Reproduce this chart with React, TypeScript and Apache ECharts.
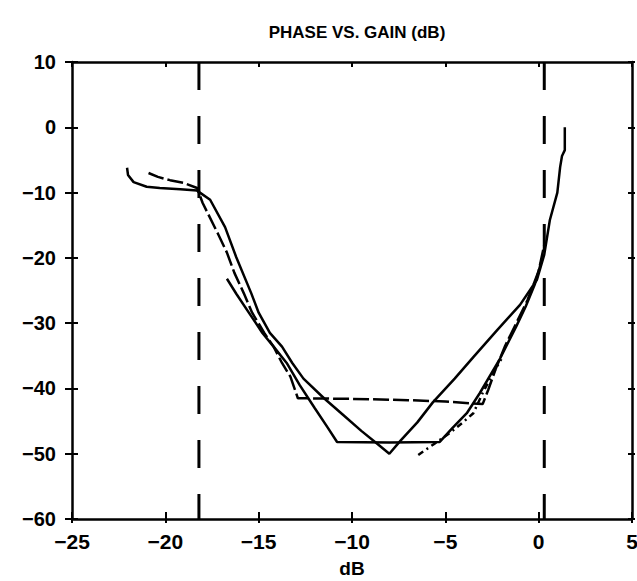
import React, { useEffect, useRef } from "react";
import * as echarts from "echarts";

const xTicks = [-25, -20, -15, -10, -5, 0, 5];
const yTicks = [-60, -50, -40, -30, -20, -10, 0, 10];

const curveV: [number, number][] = [
  [-22.05, -6.2], [-22.0, -7.3], [-21.7, -8.4], [-21.0, -9.1], [-20.3, -9.3], [-19.2, -9.5],
  [-18.3, -9.7], [-17.6, -11.1], [-16.8, -15.3], [-16.2, -19.9], [-15.4, -25.4], [-15.0, -28.4],
  [-14.4, -31.5], [-13.75, -33.6], [-13.2, -36.1], [-12.6, -38.5], [-11.5, -41.5], [-10.5, -44],
  [-9.5, -46.5], [-8.6, -48.6], [-8.0, -50], [-7.4, -48], [-6.5, -45.2], [-5.66, -42.1],
  [-4.5, -38.5], [-3.5, -35.2], [-2.2, -31], [-1.0, -27.2], [-0.1, -23.4], [0.3, -19.5],
  [0.6, -14.2], [1.0, -10], [1.15, -6.1], [1.25, -4.4], [1.4, -3.5], [1.4, 0],
];

const curveUpperFlat: [number, number][] = [
  [-20.9, -7.0], [-20.4, -7.6], [-19.75, -8.1], [-19.05, -8.5], [-18.3, -9.3], [-18.0, -11.6],
  [-17.2, -16.2], [-16.7, -19.2], [-16.3, -22.3], [-15.8, -25.4], [-15.35, -28.4], [-14.7, -31.5],
  [-14.2, -33.6], [-13.75, -36.1], [-13.3, -38.2], [-12.9, -41.5], [-10, -41.6], [-7, -41.8],
  [-5, -42.0], [-3.0, -42.4], [-2.7, -40.2], [-2.3, -37], [-1.8, -33.5], [-1.2, -30],
  [-0.6, -26.5], [0.0, -22], [0.3, -18],
];

const curveLowerFlat: [number, number][] = [
  [-16.7, -23.2], [-16.2, -25.5], [-15.5, -28.5], [-14.8, -31.5], [-14.2, -33.6], [-13.5, -36.1],
  [-12.8, -39.5], [-12.0, -43], [-11.3, -46], [-10.8, -48.2], [-8, -48.3], [-5.3, -48.2],
  [-4.6, -46], [-3.85, -43.8], [-3.15, -40.7], [-2.1, -35.6], [-1.2, -30.5], [-0.7, -27.5],
  [-0.2, -24], [0.2, -20],
];

const curveDashDot: [number, number][] = [
  [-6.45, -50.2], [-5.6, -48.5], [-4.75, -46.8], [-4.1, -45.3], [-3.5, -43.8], [-3.0, -40.7],
  [-2.5, -38], [-2.0, -35.5],
];

const leftCutoffX = -18.2;
const rightCutoffX = 0.3;

export default function App() {
  const ref = useRef<HTMLDivElement>(null);
  useEffect(() => {
    if (!ref.current) return;
    const chart = echarts.init(ref.current, null, { renderer: "svg" });
    const xMin = xTicks[0];
    const xMax = xTicks[xTicks.length - 1];
    const yMin = yTicks[0];
    const yMax = yTicks[yTicks.length - 1];
    const font = "'Liberation Sans', Arial, sans-serif";
    const fmt = (v: number) => (v < 0 ? "\u2212" + Math.abs(v) : String(v));
    const axisLineStyle = { color: "#000", width: 2.5 };
    const tickStyle = { color: "#000", width: 2 };
    const baseX = { type: "value", min: xMin, max: xMax, interval: 5, splitLine: { show: false } };
    const baseY = { type: "value", min: yMin, max: yMax, interval: 10, splitLine: { show: false } };
    const lineS = (data: [number, number][], type: any, width = 2.5) => ({
      type: "line",
      data,
      symbol: "none",
      xAxisIndex: 0,
      yAxisIndex: 0,
      lineStyle: { color: "#000", width, type },
      z: 3,
    });
    chart.setOption({
      animation: false,
      backgroundColor: "#fff",
      title: {
        text: "PHASE VS. GAIN (dB)",
        left: 352,
        textAlign: "center",
        top: 19,
        textStyle: { fontFamily: font, fontWeight: "bold", fontSize: 17, color: "#000" },
      },
      grid: { left: 72, top: 62, width: 560, height: 457, outerBoundsMode: "none", containLabel: false },
      xAxis: [
        {
          ...baseX,
          position: "bottom",
          axisLine: { show: true, onZero: false, lineStyle: axisLineStyle },
          axisTick: { show: true, inside: false, length: 4, lineStyle: tickStyle },
          axisLabel: {
            show: true,
            margin: 12,
            formatter: fmt,
            fontFamily: font,
            fontWeight: "bold",
            fontSize: 21,
            color: "#000",
          },
          name: "dB",
          nameLocation: "middle",
          nameGap: 40,
          nameTextStyle: { fontFamily: font, fontWeight: "bold", fontSize: 19, color: "#000" },
        },
        {
          ...baseX,
          position: "bottom",
          axisLine: { show: false, onZero: false },
          axisTick: { show: true, inside: true, length: 7, lineStyle: tickStyle },
          axisLabel: { show: false },
        },
        {
          ...baseX,
          position: "top",
          axisLine: { show: true, onZero: false, lineStyle: axisLineStyle },
          axisTick: { show: true, inside: true, length: 5, lineStyle: tickStyle },
          axisLabel: { show: false },
        },
      ],
      yAxis: [
        {
          ...baseY,
          position: "left",
          axisLine: { show: true, onZero: false, lineStyle: axisLineStyle },
          axisTick: { show: true, inside: false, length: 7, lineStyle: tickStyle },
          axisLabel: {
            show: true,
            margin: 16,
            formatter: fmt,
            fontFamily: font,
            fontWeight: "bold",
            fontSize: 20,
            color: "#000",
          },
        },
        {
          ...baseY,
          position: "left",
          axisLine: { show: false, onZero: false },
          axisTick: { show: true, inside: true, length: 6, lineStyle: tickStyle },
          axisLabel: { show: false },
        },
        {
          ...baseY,
          position: "right",
          axisLine: { show: true, onZero: false, lineStyle: axisLineStyle },
          axisTick: { show: true, inside: true, length: 4, lineStyle: tickStyle },
          axisLabel: { show: false },
        },
        {
          ...baseY,
          position: "right",
          axisLine: { show: false, onZero: false },
          axisTick: { show: true, inside: false, length: 3, lineStyle: tickStyle },
          axisLabel: { show: false },
        },
      ],
      series: [
        lineS([[leftCutoffX, yMax], [leftCutoffX, yMin]], [28, 26], 3),
        lineS([[rightCutoffX, yMax], [rightCutoffX, yMin]], [28, 26], 3),
        lineS(curveV, "solid"),
        lineS(curveUpperFlat, [16, 4]),
        lineS(curveLowerFlat, "solid"),
        lineS(curveDashDot, [6, 4, 2, 4]),
      ],
    });
    return () => chart.dispose();
  }, []);
  return (
    <div
      ref={ref}
      style={{ position: "fixed", left: 0, top: 0, width: 637, height: 581, background: "#fff" }}
    />
  );
}
